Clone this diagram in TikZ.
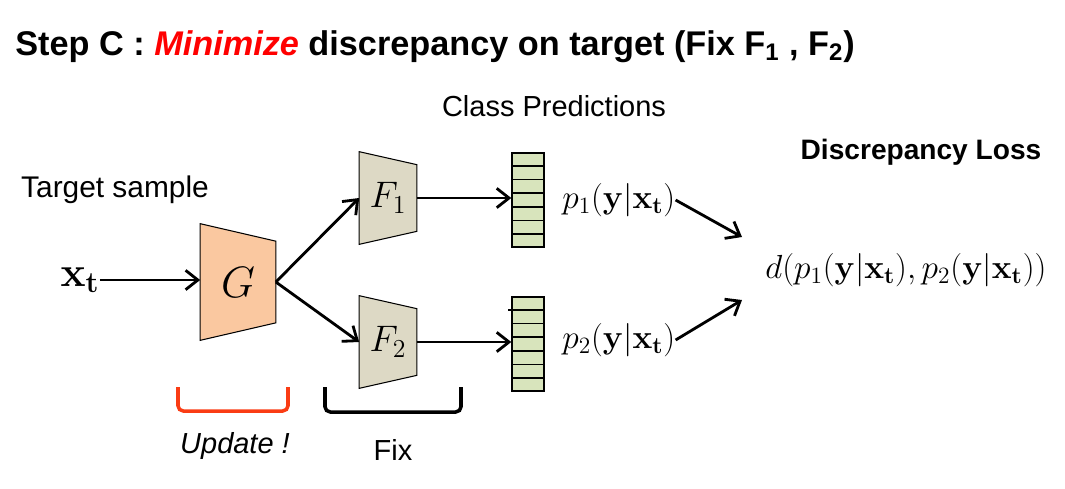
\RequirePackage{fix-cm}
\documentclass[tikz,border=0pt]{standalone}
\usepackage[no-math]{fontspec}
\setmainfont{Liberation Sans}
\usetikzlibrary{arrows.meta,backgrounds,calc}

\definecolor{gpeach}{RGB}{250,200,160}
\definecolor{fgray}{RGB}{221,217,197}
\definecolor{bargreen}{RGB}{216,228,188}
\definecolor{brred}{RGB}{250,60,20}

\tikzset{
    arr/.style={-{Straight Barb[length=7pt,width=11pt]}, line width=1.6pt},
    gblock/.style={inner sep=0pt, minimum width=1.5cm, minimum height=2.32cm},
    fblock/.style={inner sep=0pt, minimum width=1.14cm, minimum height=1.84cm},
    bar/.style={draw, line width=0.8pt, fill=bargreen, inner sep=0pt,
        minimum width=0.64cm, minimum height=1.88cm},
    bracket/.style={line width=2pt, rounded corners=3pt},
    lbl/.style={font=\fontsize{16.5}{19}\selectfont},
    mth/.style={inner sep=0pt, font=\fontsize{19}{22}\selectfont}
}

\begin{document}
\begin{tikzpicture}[x=0.02cm, y=-0.02cm]
    \useasboundingbox (0,0) rectangle (1065,488);

    % Title and captions
    \node[anchor=base west, inner sep=0pt, font=\fontsize{19.5}{24}\selectfont\bfseries] (title) at (15,55)
        {Step C : {\color{red}\itshape Minimize} discrepancy on target (Fix F\textsubscript{1} , F\textsubscript{2})};
    \node[lbl] (cls) at (554,106) {Class Predictions};
    \node[lbl, font=\fontsize{17}{19}\selectfont] (tgt) at (115,190) {Target sample};
    \node[lbl, font=\fontsize{16}{19}\selectfont\bfseries] (dl) at (921,152) {Discrepancy Loss};

    % Networks
    \node[inner sep=0pt, font=\fontsize{24}{28}\selectfont] (xt) at (80,280) {$\mathbf{x_t}$};
    \node[gblock, font=\fontsize{25}{30}\selectfont] (G) at (238,282) {$G$};
    \node[fblock, font=\fontsize{21}{26}\selectfont] (F1) at (388,198) {$F_1$};
    \node[fblock, font=\fontsize{21}{26}\selectfont] (F2) at (388,342) {$F_2$};

    \begin{scope}[on background layer]
        \draw[line width=0.6pt, fill=gpeach] (G.north west) -- ([yshift=-0.35cm]G.north east)
            -- ([yshift=0.35cm]G.south east) -- (G.south west) -- cycle;
        \foreach \f in {F1,F2} {
            \draw[line width=0.6pt, fill=fgray] (\f.north west) -- ([yshift=-0.26cm]\f.north east)
                -- ([yshift=0.26cm]\f.south east) -- (\f.south west) -- cycle;
        }
    \end{scope}

    % Class prediction bars
    \node[bar] (bar1) at (528,200) {};
    \node[bar] (bar2) at (528,344) {};
    \foreach \b in {bar1,bar2} {
        \foreach \k in {1,...,6} {
            \draw[line width=0.8pt] ($(\b.north west)!\k/7!(\b.south west)$) -- ($(\b.north east)!\k/7!(\b.south east)$);
        }
    }
    \draw[line width=0.8pt] ($(bar2.north west)!1/7!(bar2.south west)+(-3,0)$) -- +(29,0);

    \node[mth, anchor=west] (p1) at (562,200) {$p_1(\mathbf{y}|\mathbf{x_t})$};
    \node[mth, anchor=west] (p2) at (562,340) {$p_2(\mathbf{y}|\mathbf{x_t})$};
    \node[mth, anchor=west] (d) at (765,270) {$d(p_1(\mathbf{y}|\mathbf{x_t}),p_2(\mathbf{y}|\mathbf{x_t}))$};
    \coordinate (in1) at (742,237);
    \coordinate (in2) at (742,300);

    % Connectors
    \draw[arr] (xt.east) -- (xt.east -| G.west);
    \draw[arr] (G.east) -- (F1.west);
    \draw[arr] (G.east) -- (F2.west);
    \draw[arr] (F1.east) -- (F1.east -| bar1.west);
    \draw[arr] (F2.east) -- (F2.east -| bar2.west);
    \draw[arr] (p1.east) -- (in1);
    \draw[arr] (p2.east) -- (in2);

    % Update / fix brackets
    \draw[bracket, brred] (178,387) -- (178,411) -- (288,411) -- (288,387);
    \draw[bracket] (325,387) -- (325,412) -- (461,412) -- (461,387);
    \node[lbl, font=\fontsize{16.5}{19}\selectfont\itshape] (upd) at (235,446) {Update !};
    \node[lbl] (fix) at (393,450) {Fix};
\end{tikzpicture}
\end{document}
